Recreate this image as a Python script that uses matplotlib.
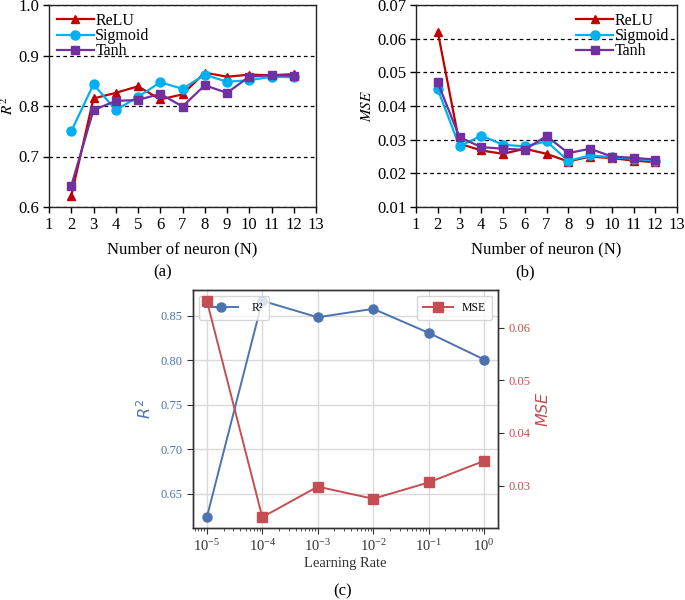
import numpy as np
import matplotlib
matplotlib.use("Agg")
import matplotlib.pyplot as plt
from matplotlib.ticker import LogLocator, NullFormatter

plt.rcParams['font.family'] = ['Liberation Serif', 'DejaVu Serif']

# Panel (a) and (b): number of neurons
neurons = [2, 3, 4, 5, 6, 7, 8, 9, 10, 11, 12]
r2_relu = [0.622, 0.815, 0.826, 0.839, 0.813, 0.823, 0.866, 0.858, 0.862, 0.861, 0.863]
r2_sigmoid = [0.750, 0.843, 0.792, 0.818, 0.847, 0.834, 0.862, 0.848, 0.851, 0.858, 0.857]
r2_tanh = [0.642, 0.792, 0.810, 0.812, 0.824, 0.799, 0.841, 0.826, 0.858, 0.861, 0.860]
mse_relu = [0.0621, 0.0288, 0.0268, 0.0258, 0.0273, 0.0258, 0.0235, 0.0250, 0.0245, 0.0238, 0.0233]
mse_sigmoid = [0.0450, 0.0280, 0.0312, 0.0285, 0.0280, 0.0295, 0.0237, 0.0253, 0.0248, 0.0243, 0.0238]
mse_tanh = [0.0470, 0.0307, 0.0278, 0.0273, 0.0270, 0.0311, 0.0260, 0.0273, 0.0250, 0.0246, 0.0241]

# Panel (c): learning rate
learning_rate = [1e-5, 1e-4, 1e-3, 1e-2, 1e-1, 1e0]
r2_lr = [0.6238, 0.867, 0.8485, 0.858, 0.831, 0.801]
mse_lr = [0.0651, 0.0240, 0.0298, 0.0275, 0.0306, 0.0347]

C_RELU = '#C00000'
C_SIG = '#00B0F0'
C_TANH = '#7030A0'
C_BLUE = '#4C72B0'
C_RED = '#C44E52'

fig = plt.figure(figsize=(6.85, 6.0), dpi=100)
W, H = 685.0, 600.0


def px_axes(l, t, r, b):
    return fig.add_axes([l / W, 1 - b / H, (r - l) / W, (b - t) / H])


# Excel-like panels (a) and (b)
def neuron_panel(ax, relu, sig, tanh, ylim, yticks, ylabel, loc):
    ax.plot(neurons, relu, color=C_RELU, marker='^', ms=6, lw=1.6, label='ReLU', zorder=3)
    ax.plot(neurons, sig, color=C_SIG, marker='o', ms=6.5, lw=1.6, label='Sigmoid', zorder=3)
    ax.plot(neurons, tanh, color=C_TANH, marker='s', ms=5.5, lw=1.6, label='Tanh', zorder=3)
    ax.set_xlim(1, 13)
    ax.set_xticks(range(1, 14))
    ax.set_ylim(*ylim)
    ax.set_yticks(yticks)
    ax.grid(axis='y', linestyle='--', color='black', lw=0.9, dashes=(3, 2.5))
    ax.set_axisbelow(True)
    ax.tick_params(direction='out', length=4, width=1, labelsize=12, pad=3)
    for s in ax.spines.values():
        s.set_linewidth(1.0)
        s.set_color('#222222')
    ax.set_ylabel(ylabel, fontsize=11, math_fontfamily='stix', labelpad=2)
    ax.set_xlabel('Number of neuron (N)', fontsize=12, labelpad=6)
    ax.legend(loc=loc, frameon=False, fontsize=11.5, handlelength=2.3,
              handletextpad=0.1, labelspacing=-0.05, borderaxespad=0.1)


ax_a = px_axes(49, 5, 316, 207)
neuron_panel(ax_a, r2_relu, r2_sigmoid, r2_tanh, (0.6, 1.0),
             [0.6, 0.7, 0.8, 0.9, 1.0], '$R^2$', 'upper left')
ax_a.yaxis.set_major_formatter(plt.FormatStrFormatter('%.1f'))

ax_b = px_axes(416, 5, 677, 207)
neuron_panel(ax_b, mse_relu, mse_sigmoid, mse_tanh, (0.01, 0.07),
             [0.01, 0.02, 0.03, 0.04, 0.05, 0.06, 0.07], '$MSE$', 'upper right')
ax_b.yaxis.set_major_formatter(plt.FormatStrFormatter('%.2f'))

fig.text(163 / W, 1 - 272 / H, '(a)', fontsize=12, ha='center', va='center')
fig.text(525 / W, 1 - 272 / H, '(b)', fontsize=12, ha='center', va='center')

# Panel (c): twin axis learning-rate plot
ax_c = px_axes(193, 290, 498, 528)
ax_c.plot(learning_rate, r2_lr, color=C_BLUE, marker='o', ms=6.5, lw=1.4, label='R²')
ax_c.set_xscale('log')
ax_c.set_xlim(10 ** -5.25, 10 ** 0.25)
ax_c.xaxis.set_major_locator(LogLocator(base=10, numticks=10))
ax_c.xaxis.set_minor_locator(LogLocator(base=10, subs=np.arange(2, 10), numticks=20))
ax_c.xaxis.set_minor_formatter(NullFormatter())
ax_c.set_yticks([0.65, 0.70, 0.75, 0.80, 0.85])
ax_c.yaxis.set_major_formatter(plt.FormatStrFormatter('%.2f'))
ax_c.grid(True, which='major', color='#d9d9d9', lw=1.0)
ax_c.set_axisbelow(True)
ax_c.tick_params(axis='y', colors=C_BLUE, labelsize=9, direction='out', length=4)
ax_c.tick_params(axis='y', color='#333333')
ax_c.tick_params(axis='x', which='major', labelsize=10.5, direction='out', length=4,
                 color='#333333', labelcolor='#333333')
ax_c.tick_params(axis='x', which='minor', direction='out', length=2.5, color='#333333')
for lbl in ax_c.get_xticklabels():
    lbl.set_math_fontfamily('stix')
ax_c.set_ylabel('$R^2$', color=C_BLUE, fontsize=11.5, math_fontfamily='dejavusans')
ax_c.set_xlabel('Learning Rate', fontsize=10.5, color='#333333', labelpad=2)
for s in ax_c.spines.values():
    s.set_color('#333333')
    s.set_linewidth(1.0)
ax_c.legend(loc='upper left', fontsize=8.5, handlelength=2.8, borderpad=0.5,
            handletextpad=1.2, framealpha=0.8, edgecolor='#cccccc', fancybox=True)

ax_d = ax_c.twinx()
ax_d.plot(learning_rate, mse_lr, color=C_RED, marker='s', ms=6.5, lw=1.4, label='MSE')
ax_d.set_yticks([0.03, 0.04, 0.05, 0.06])
ax_d.yaxis.set_major_formatter(plt.FormatStrFormatter('%.2f'))
ax_d.tick_params(axis='y', colors=C_RED, labelsize=9, direction='out', length=4)
ax_d.tick_params(axis='y', color='#333333')
ax_d.set_ylabel('$MSE$', color=C_RED, fontsize=11.5, math_fontfamily='dejavusans')
for s in ax_d.spines.values():
    s.set_color('#333333')
    s.set_linewidth(1.0)
ax_d.legend(loc='upper right', fontsize=8.5, handlelength=2.5, borderpad=0.5,
            framealpha=0.8, edgecolor='#cccccc', fancybox=True)

fig.text(343 / W, 1 - 591 / H, '(c)', fontsize=12, ha='center', va='center')

fig.savefig('out.png', dpi=100)
